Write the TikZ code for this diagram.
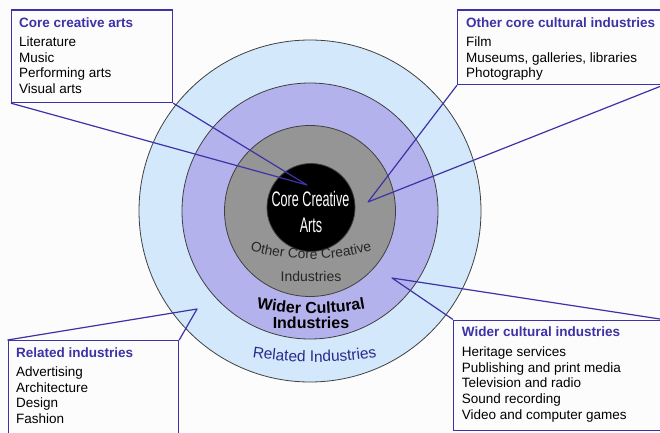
\documentclass[tikz,border=0pt]{standalone}
\usepackage{graphicx}
\usepackage{fontspec}
\setmainfont{Liberation Sans}
\usetikzlibrary{decorations.text}
\definecolor{ringblue}{HTML}{D4E8FB}
\definecolor{ringpurple}{HTML}{B4B2EC}
\definecolor{ringgray}{HTML}{959595}
\definecolor{callout}{HTML}{3D32A6}
\definecolor{relblue}{HTML}{2A2A8C}
\definecolor{bg}{HTML}{FCFCFC}
\begin{document}
\begin{tikzpicture}[x=1pt,y=1pt,
  ring/.style={draw=black!75, line width=0.8pt, circle, inner sep=0pt},
  calbox/.style={draw=callout, fill=bg, line width=1.2pt, inner sep=0pt, anchor=north west},
  wedge/.style={draw=callout, line width=1.2pt, line join=round},
  item/.style={anchor=base west, inner sep=0pt, font=\fontsize{13.5}{15.6}\selectfont, text=black},
  boxtitle/.style={anchor=base west, inner sep=0pt, font=\fontsize{13.5}{15.6}\selectfont\bfseries, text=callout},
]
\useasboundingbox (0,0) rectangle (660,432);
\fill[bg] (0,0) rectangle (660,432);

% rings
\node[ring, fill=ringblue, minimum size=342pt] (related) at (310,221) {};
\node[ring, fill=ringpurple, minimum size=256pt] (wider) at (310,221) {};
\node[ring, fill=ringgray, minimum size=171pt] (othercore) at (310,221) {};
\node[ring, fill=black, minimum size=88pt] (core) at (311,224.5) {};

% ring labels
\node[text=white, inner sep=0pt, font=\fontsize{21}{21}\selectfont] (cca1) at (310.5,233) {\scalebox{0.6}[1]{Core Creative}};
\node[text=white, inner sep=0pt, font=\fontsize{21}{21}\selectfont] (cca2) at (311,207) {\scalebox{0.6}[1]{Arts}};

\path[decorate, decoration={text along path, text align=center, text color=black!85,
  text={|\fontsize{13.8}{16}\selectfont|Other Core Creative}}]
  (311,393) ++(240:220) arc[start angle=240, end angle=300, radius=220];
\node[text=black!85, inner sep=0pt, font=\fontsize{14}{14}\selectfont] (oci2) at (311,156) {Industries};

\path[decorate, decoration={text along path, text align=center, text color=black,
  text={|\fontsize{16}{18}\selectfont\bfseries|Wider Cultural}}]
  (311,418.5) ++(255:300) arc[start angle=255, end angle=285, radius=300];
\node[text=black, inner sep=0pt, font=\fontsize{16}{16}\selectfont\bfseries] (wci2) at (311,109.3) {Industries};

\path[decorate, decoration={text along path, text align=center, text color=relblue,
  text={|\fontsize{15.5}{18}\selectfont|Related Industries}}]
  (314.5,470) ++(255:400) arc[start angle=255, end angle=285, radius=400];

% callout tips
\coordinate (tip1) at (307,247);
\coordinate (tip2) at (368,230);
\coordinate (tip3) at (197,123);
\coordinate (tip4) at (392,154);

% boxes
\node[calbox, minimum width=161pt, minimum height=92.5pt] (box1) at (11,422.5) {};
\node[calbox, minimum width=205pt, minimum height=74.5pt] (box2) at (457,422.5) {};
\node[calbox, minimum width=170.5pt, minimum height=100pt] (box3) at (7.5,92) {};
\node[calbox, minimum width=209pt, minimum height=110.5pt] (box4) at (453,112.5) {};

% wedges
\draw[wedge] (box1.south west) -- (tip1) -- (box1.south east);
\draw[wedge] (box2.south west) -- (tip2) -- (box2.south east);
\draw[wedge] (box3.north west) -- (tip3) -- (box3.north east);
\draw[wedge] (box4.north west) -- (tip4) -- (box4.north east);

% box texts
\node[boxtitle] (b1t) at (19,404.4) {Core creative arts};
\node[item] (b1a) at (19,385.4) {Literature};
\node[item] (b1b) at (19,369.8) {Music};
\node[item] (b1c) at (19,354.2) {Performing arts};
\node[item] (b1d) at (19,338.6) {Visual arts};

\node[boxtitle] (b2t) at (466,404.4) {Other core cultural industries};
\node[item] (b2a) at (466,385.4) {Film};
\node[item] (b2b) at (466,369.8) {Museums, galleries, libraries};
\node[item] (b2c) at (466,354.2) {Photography};

\node[boxtitle] (b3t) at (16,74.4) {Related industries};
\node[item] (b3a) at (16,55.4) {Advertising};
\node[item] (b3b) at (16,39.8) {Architecture};
\node[item] (b3c) at (16,24.2) {Design};
\node[item] (b3d) at (16,8.6) {Fashion};

\node[boxtitle] (b4t) at (461.7,95.4) {Wider cultural industries};
\node[item] (b4a) at (461.7,75.4) {Heritage services};
\node[item] (b4b) at (461.7,59.8) {Publishing and print media};
\node[item] (b4c) at (461.7,44.2) {Television and radio};
\node[item] (b4d) at (461.7,28.6) {Sound recording};
\node[item] (b4e) at (461.7,13.0) {Video and computer games};
\end{tikzpicture}
\end{document}
